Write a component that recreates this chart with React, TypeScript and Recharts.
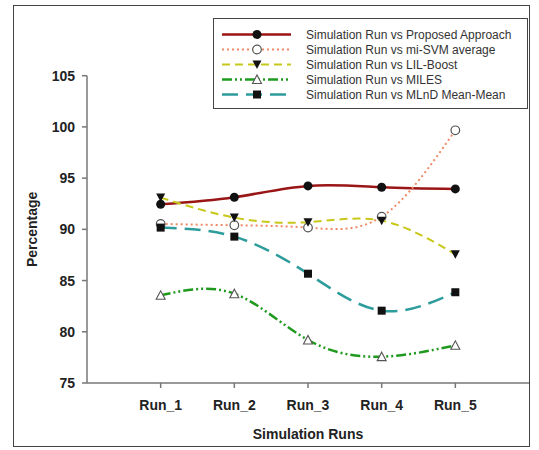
import { LineChart, Line, XAxis, YAxis, Label } from 'recharts';

const runs = ['Run_1', 'Run_2', 'Run_3', 'Run_4', 'Run_5'];
const proposed = [92.45, 93.13, 94.24, 94.11, 93.95];
const miSvm = [90.53, 90.4, 90.17, 91.24, 99.67];
const lilBoost = [93.1, 91.15, 90.7, 90.85, 87.56];
const miles = [83.56, 83.72, 79.2, 77.57, 78.68];
const mlnd = [90.17, 89.29, 85.67, 82.06, 83.86];
const yTicks = [75, 80, 85, 90, 95, 100, 105];

type MarkerKind = 'dot' | 'ring' | 'down' | 'up' | 'square';

interface SeriesConfig {
  dataKey: string;
  name: string;
  color: string;
  dash?: string;
  width: number;
  marker: MarkerKind;
}

const series: SeriesConfig[] = [
  { dataKey: 'proposed', name: 'Simulation Run vs Proposed Approach', color: '#9a1515', width: 2.5, marker: 'dot' },
  { dataKey: 'miSvm', name: 'Simulation Run vs mi-SVM average', color: '#f08a66', dash: '2 3', width: 2, marker: 'ring' },
  { dataKey: 'lilBoost', name: 'Simulation Run vs LIL-Boost', color: '#c8c81a', dash: '8 5', width: 2, marker: 'down' },
  { dataKey: 'miles', name: 'Simulation Run vs MILES', color: '#1f9a1f', dash: '10 3 2 3 2 3', width: 2.5, marker: 'up' },
  { dataKey: 'mlnd', name: 'Simulation Run vs MLnD Mean-Mean', color: '#2f9c9c', dash: '16 8', width: 2.5, marker: 'square' },
];

const data = runs.map((name, i) => ({
  x: i + 1,
  name,
  proposed: proposed[i],
  miSvm: miSvm[i],
  lilBoost: lilBoost[i],
  miles: miles[i],
  mlnd: mlnd[i],
}));

const FONT = '"Liberation Sans", Arial, sans-serif';

function Marker({ kind, cx, cy }: { kind: MarkerKind; cx: number; cy: number }) {
  switch (kind) {
    case 'dot':
      return <circle cx={cx} cy={cy} r={4.5} fill="#111" />;
    case 'ring':
      return <circle cx={cx} cy={cy} r={4.3} fill="#fff" stroke="#555" strokeWidth={1.2} />;
    case 'down':
      return <polygon points={`${cx - 4.5},${cy - 4} ${cx + 4.5},${cy - 4} ${cx},${cy + 4.5}`} fill="#111" />;
    case 'up':
      return (
        <polygon
          points={`${cx - 4.5},${cy + 4} ${cx + 4.5},${cy + 4} ${cx},${cy - 4.5}`}
          fill="#fff"
          stroke="#555"
          strokeWidth={1.1}
        />
      );
    case 'square':
      return <rect x={cx - 4} y={cy - 4} width={8} height={8} fill="#111" />;
  }
}

function ChartLegend() {
  return (
    <div
      style={{
        position: 'absolute',
        left: 213,
        top: 18,
        width: 315,
        height: 91,
        border: '1px solid #444',
        background: '#fff',
        boxSizing: 'border-box',
        paddingTop: 8,
      }}
    >
      {series.map((s) => (
        <div key={s.dataKey} style={{ display: 'flex', alignItems: 'center', height: 15 }}>
          <svg width={92} height={15} style={{ display: 'block' }}>
            <line
              x1={8}
              y1={7.5}
              x2={77}
              y2={7.5}
              stroke={s.color}
              strokeWidth={s.width}
              strokeDasharray={s.dash}
            />
            <Marker kind={s.marker} cx={43} cy={7.5} />
          </svg>
          <span style={{ fontFamily: FONT, fontSize: 12, color: '#333', whiteSpace: 'nowrap' }}>{s.name}</span>
        </div>
      ))}
    </div>
  );
}

export default function App() {
  return (
    <div style={{ position: 'absolute', left: 0, top: 0, width: 539, height: 450, background: '#fff' }}>
      <div
        style={{
          position: 'absolute',
          left: 13,
          top: 5,
          width: 517,
          height: 442,
          border: '1.5px solid #444',
          boxSizing: 'border-box',
        }}
      />
      <LineChart
        width={539}
        height={450}
        data={data}
        margin={{ top: 75.7, right: 10, left: 27, bottom: 37 }}
        style={{ position: 'absolute', left: 0, top: 0 }}
      >
        <XAxis
          dataKey="x"
          type="number"
          domain={[0, 6]}
          ticks={[1, 2, 3, 4, 5]}
          tickFormatter={(v: number) => runs[v - 1]}
          height={30}
          stroke="#777"
          strokeWidth={1.5}
          tickSize={5}
          tickMargin={12}
          tick={{ fontFamily: FONT, fontSize: 14, fontWeight: 'bold', fill: '#222' }}
        >
          <Label
            value="Simulation Runs"
            position="bottom"
            offset={16}
            style={{ fontFamily: FONT, fontSize: 14, fontWeight: 'bold', fill: '#222' }}
          />
        </XAxis>
        <YAxis
          type="number"
          domain={[75, 105]}
          ticks={yTicks}
          width={60}
          stroke="#777"
          strokeWidth={1.5}
          tickSize={5}
          tickMargin={7}
          tick={{ fontFamily: FONT, fontSize: 14, fontWeight: 'bold', fill: '#222' }}
        >
          <Label
            value="Percentage"
            angle={-90}
            position="insideLeft"
            offset={0}
            dx={5}
            style={{ textAnchor: 'middle', fontFamily: FONT, fontSize: 14, fontWeight: 'bold', fill: '#222' }}
          />
        </YAxis>
        {series.map((s) => (
          <Line
            key={s.dataKey}
            type="natural"
            dataKey={s.dataKey}
            name={s.name}
            stroke={s.color}
            strokeWidth={s.width}
            strokeDasharray={s.dash}
            isAnimationActive={false}
            dot={(p: any) => (
              <g key={`${s.dataKey}-${p.index}`}>
                <Marker kind={s.marker} cx={p.cx} cy={p.cy} />
              </g>
            )}
            activeDot={false}
          />
        ))}
      </LineChart>
      <ChartLegend />
    </div>
  );
}
